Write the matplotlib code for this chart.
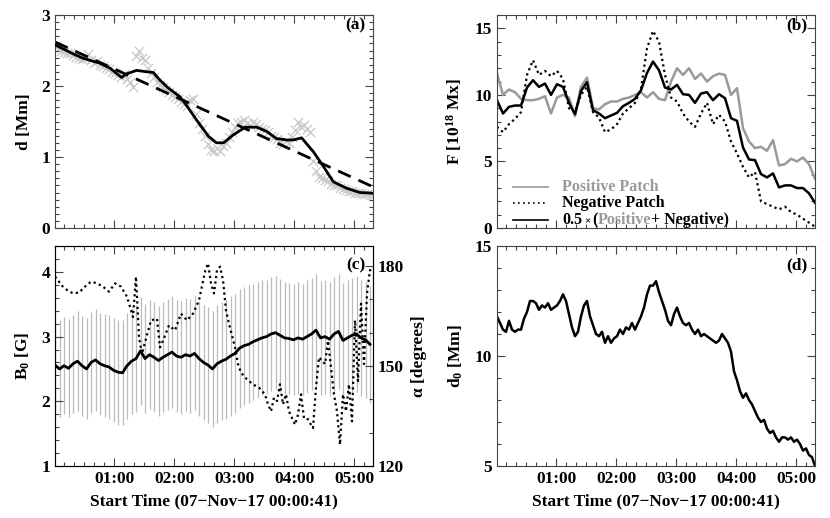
import numpy as np
import matplotlib
matplotlib.use("Agg")
import matplotlib.pyplot as plt
from matplotlib.ticker import MultipleLocator

plt.rcParams['font.family'] = ['Liberation Serif', 'DejaVu Serif']
plt.rcParams['font.weight'] = 'bold'
plt.rcParams['mathtext.fontset'] = 'custom'
plt.rcParams['mathtext.rm'] = 'Liberation Serif:bold'
plt.rcParams['mathtext.it'] = 'Liberation Serif:bold'
plt.rcParams['mathtext.bf'] = 'Liberation Serif:bold'

T0 = 41 / 3600.0  # start time offset (hours)

# ---------------- Panel (a): distance d ----------------
t_scatter = np.round(np.arange(0, 5.301, 0.05), 3)
d_scatter = [2.57, 2.52, 2.50, 2.48, 2.47, 2.46, 2.43, 2.41, 2.40, 2.38,
             2.40, 2.45, 2.36, 2.33, 2.35, 2.30, 2.28, 2.25, 2.24, 2.20,
             2.18, 2.15, 2.12, 2.17, 2.10, 2.05, 1.98, 2.42, 2.50, 2.40,
             2.36, 2.25, 2.18, 2.12, 2.05, 2.02, 1.98, 1.95, 1.92, 1.88,
             1.85, 1.82, 1.78, 1.75, 1.72, 1.80, 1.82, 1.60, 1.48, 1.40,
             1.30, 1.18, 1.10, 1.08, 1.12, 1.08, 1.15, 1.20, 1.28, 1.35,
             1.42, 1.48, 1.50, 1.52, 1.48, 1.45, 1.50, 1.46, 1.42, 1.40,
             1.38, 1.35, 1.30, 1.28, 1.25, 1.20, 1.18, 1.22, 1.20, 1.28,
             1.38, 1.50, 1.42, 1.45, 1.40, 1.35, 0.95, 0.80, 0.72, 0.70,
             0.68, 0.66, 0.62, 0.60, 0.60, 0.57, 0.55, 0.54, 0.52, 0.52,
             0.50, 0.50, 0.49, 0.48, 0.48, 0.47, 0.46]
t_smooth = [0.0, 0.31, 0.47, 0.75, 0.92, 1.11, 1.19, 1.36, 1.53, 1.64, 1.75,
            1.89, 2.08, 2.19, 2.36, 2.56, 2.69, 2.81, 2.97, 3.17, 3.36, 3.53,
            3.69, 3.86, 3.97, 4.11, 4.31, 4.44, 4.64, 4.86, 5.08, 5.30]
d_smooth = [2.58, 2.45, 2.39, 2.32, 2.25, 2.12, 2.17, 2.22, 2.20, 2.19, 2.08,
            1.97, 1.85, 1.73, 1.52, 1.29, 1.20, 1.20, 1.31, 1.42, 1.42, 1.36,
            1.26, 1.24, 1.24, 1.27, 1.07, 0.91, 0.65, 0.56, 0.50, 0.49]
t_linfit = [0.0, 5.30]
d_linfit = [2.62, 0.58]

# ---------------- Panel (b): flux ----------------
t_flux = np.round(np.arange(0, 5.301, 0.1), 2)
flux_pos = [11.6, 10.0, 10.4, 10.2, 9.7, 9.6, 9.6, 9.7, 9.9, 8.6,
            9.8, 10.0, 9.8, 8.4, 10.6, 11.3, 9.0, 8.9, 9.3, 9.5,
            9.5, 9.7, 9.8, 10.0, 10.2, 9.8, 10.2, 9.7, 9.6, 11.0,
            12.0, 11.5, 12.0, 11.2, 11.6, 11.0, 11.4, 11.6, 11.5, 10.0,
            10.5, 7.5, 6.5, 6.0, 6.1, 5.8, 6.6, 4.7, 4.8, 5.2,
            5.0, 5.3, 4.8, 3.7]
flux_neg = [7.6, 7.2, 7.8, 8.2, 8.7, 11.5, 12.6, 11.5, 11.8, 11.4,
            11.8, 11.2, 9.0, 8.7, 10.0, 10.6, 8.7, 8.3, 7.2, 7.4,
            7.8, 8.6, 9.0, 9.4, 10.5, 13.5, 14.8, 14.0, 11.5, 9.8,
            9.5, 8.6, 8.0, 7.6, 8.6, 9.4, 7.8, 8.5, 8.0, 6.5,
            5.6, 4.6, 3.8, 4.2, 2.0, 1.8, 1.6, 1.4, 1.6, 1.2,
            1.0, 0.7, 0.4, 0.1]

# ---------------- Panel (c): B0 and alpha ----------------
t_b0 = np.round(np.arange(0, 5.2501, 0.075), 3)
b0 = [2.56, 2.50, 2.55, 2.51, 2.58, 2.62, 2.55, 2.50, 2.60, 2.64,
      2.58, 2.55, 2.53, 2.48, 2.45, 2.44, 2.55, 2.62, 2.66, 2.78,
      2.66, 2.72, 2.68, 2.63, 2.68, 2.72, 2.76, 2.70, 2.68, 2.72,
      2.70, 2.74, 2.66, 2.60, 2.56, 2.50, 2.58, 2.62, 2.65, 2.70,
      2.74, 2.82, 2.86, 2.88, 2.92, 2.95, 2.98, 3.00, 3.04, 3.06,
      3.02, 2.98, 2.97, 2.95, 2.98, 2.96, 3.00, 3.04, 3.10, 2.98,
      3.00, 2.96, 3.04, 3.08, 2.94, 2.98, 3.02, 3.04, 2.98, 2.95,
      2.88]
b0_err = [0.74, 0.75, 0.75, 0.76, 0.76, 0.77, 0.77, 0.78, 0.78, 0.79, 0.79, 0.80, 0.80,
          0.80, 0.81, 0.81, 0.82, 0.82, 0.83, 0.83, 0.84, 0.84, 0.85, 0.85, 0.85, 0.86,
          0.86, 0.86, 0.87, 0.87, 0.88, 0.88, 0.89, 0.89, 0.90, 0.90, 0.91, 0.91, 0.92,
          0.92, 0.92, 0.92, 0.91, 0.91, 0.90, 0.90, 0.89, 0.88, 0.88, 0.87, 0.87, 0.86,
          0.86, 0.86, 0.86, 0.86, 0.87, 0.87, 0.87, 0.88, 0.88, 0.88, 0.88, 0.89, 0.89,
          0.89, 0.89, 0.90, 0.90, 0.90, 0.90]
t_alpha = [0.0, 0.05, 0.1, 0.2, 0.3, 0.4, 0.5, 0.6, 0.7, 0.8, 0.9, 1.0, 1.1, 1.2,
           1.3, 1.35, 1.4, 1.45, 1.5, 1.6, 1.7, 1.75, 1.8, 1.9, 2.0, 2.1, 2.2, 2.3,
           2.4, 2.5, 2.55, 2.6, 2.65, 2.7, 2.75, 2.8, 2.85, 2.9, 3.0, 3.05, 3.1, 3.2,
           3.3, 3.4, 3.5, 3.55, 3.6, 3.65, 3.7, 3.75, 3.8, 3.85, 3.9, 4.0, 4.05, 4.1,
           4.15, 4.2, 4.3, 4.35, 4.4, 4.5, 4.55, 4.6, 4.65, 4.7, 4.75, 4.8, 4.85, 4.9,
           4.95, 5.0, 5.05, 5.1, 5.15, 5.2, 5.25, 5.3]
alpha = [176.8, 175.8, 174.3, 172.8, 171.8, 172.0, 173.8, 175.3, 174.8, 173.8, 172.3,
         174.8, 173.8, 170.8, 164.7, 176.8, 158.6, 153.6, 157.1, 163.7, 164.2, 155.6,
         157.6, 162.2, 160.7, 165.7, 163.7, 165.7, 169.7, 178.3, 180.8, 174.8, 171.8,
         178.8, 179.8, 175.8, 166.7, 162.7, 155.6, 150.6, 148.0, 146.0, 144.5, 143.5,
         141.5, 138.5, 136.4, 140.5, 139.5, 144.5, 138.5, 141.5, 136.4, 132.4, 135.4,
         141.5, 134.4, 134.4, 131.4, 143.5, 152.6, 150.6, 157.6, 149.6, 141.5, 136.4,
         126.4, 141.5, 136.4, 144.5, 133.4, 163.7, 145.5, 168.7, 150.6, 171.8, 178.8,
         177.8]

# ---------------- Panel (d): d0 ----------------
t_d0 = np.round(np.arange(0, 5.301, 0.05), 3)
d0 = [11.8, 11.5, 11.2, 11.1, 11.6, 11.2, 11.1, 11.2, 11.2, 11.7,
      12.0, 12.5, 12.5, 12.4, 12.1, 12.3, 12.2, 12.4, 12.1, 12.2,
      12.3, 12.5, 12.8, 12.5, 11.9, 11.3, 10.9, 11.1, 11.8, 12.3,
      12.5, 11.8, 11.4, 11.0, 10.9, 11.1, 10.6, 10.9, 10.6, 10.8,
      10.9, 11.2, 11.0, 11.3, 11.2, 11.5, 11.2, 11.5, 11.8, 12.2,
      12.8, 13.2, 13.2, 13.4, 12.9, 12.5, 12.1, 11.6, 11.4, 11.9,
      12.2, 11.8, 11.5, 11.4, 11.5, 11.2, 11.0, 11.2, 10.9, 11.0,
      10.9, 10.8, 10.7, 10.6, 10.7, 11.0, 10.8, 10.6, 10.2, 9.3,
      8.9, 8.4, 8.1, 8.3, 8.0, 7.8, 7.5, 7.2, 7.0, 7.1,
      6.7, 6.5, 6.6, 6.3, 6.1, 6.3, 6.3, 6.2, 6.3, 6.1,
      6.2, 6.0, 5.7, 5.8, 5.5, 5.4, 5.0]

hour_ticks = [1, 2, 3, 4, 5]
hour_labels = ['01:00', '02:00', '03:00', '04:00', '05:00']
legend_labels = ['Positive Patch', 'Negative Patch']
xlabel_text = 'Start Time (07\u2212Nov\u221217 00:00:41)'

# ================= Figure =================
W, H = 830, 518
fig = plt.figure(figsize=(W / 100, H / 100), dpi=100)

def box(x0, y0, x1, y1):
    return [x0 / W, 1 - y1 / H, (x1 - x0) / W, (y1 - y0) / H]

axa = fig.add_axes(box(55, 15, 373, 228))
axb = fig.add_axes(box(497, 15, 815, 228))
axc = fig.add_axes(box(55, 246, 373, 466))
axd = fig.add_axes(box(497, 246, 815, 466))

FS = 12.5
GRAY = '#9a9a9a'
XMIN, XMAX = T0, T0 + 5.3

def style(ax, ymin, ymax, ymaj, ymin_step, xlabels, right=True):
    ax.set_xlim(XMIN, XMAX)
    ax.set_ylim(ymin, ymax)
    ax.set_xticks(hour_ticks)
    ax.xaxis.set_minor_locator(MultipleLocator(1 / 6))
    ax.yaxis.set_major_locator(MultipleLocator(ymaj))
    ax.yaxis.set_minor_locator(MultipleLocator(ymin_step))
    if xlabels:
        ax.set_xticklabels(hour_labels)
    else:
        ax.set_xticklabels([])
    ax.tick_params(which='both', direction='in', top=True, right=right,
                   labelsize=FS, width=0.8, color='#444444')
    ax.tick_params(which='major', length=6)
    ax.tick_params(which='minor', length=3)
    for s in ax.spines.values():
        s.set_linewidth(0.8)
        s.set_color('#444444')
    for lab in ax.get_xticklabels() + ax.get_yticklabels():
        lab.set_fontweight('bold')

# ---- (a)
axa.scatter(np.array(t_scatter) + T0, d_scatter, marker='x', s=45,
            color='#c8c8c8', linewidths=0.9, zorder=1)
axa.plot(np.array(t_smooth) + T0, d_smooth, color='black', lw=2.0, zorder=3)
axa.plot(np.array(t_linfit) + T0, d_linfit, color='black', lw=2.0,
         dashes=(5, 3), zorder=2)
style(axa, 0, 3, 1, 0.1, False)
axa.set_ylabel('d [Mm]', fontsize=FS, fontweight='bold')
axa.yaxis.set_label_coords(-0.072, 0.5)
axa.text(0.975, 0.953, '(a)', transform=axa.transAxes, ha='right', va='center',
         fontsize=FS, fontweight='bold')

# ---- (b)
fp = np.array(flux_pos)
fn = np.array(flux_neg)
axb.plot(t_flux + T0, fp, color=GRAY, lw=1.8)
axb.plot(t_flux + T0, fn, color='black', lw=1.6, linestyle=(0, (1, 1.5)))
axb.plot(t_flux + T0, 0.5 * (fp + fn), color='black', lw=1.8)
style(axb, 0, 16, 5, 1, False)
axb.set_ylabel('F [10$^{\\mathrm{18}}$ Mx]', fontsize=FS, fontweight='bold')
axb.yaxis.set_label_coords(-0.105, 0.5)
axb.text(0.975, 0.953, '(b)', transform=axb.transAxes, ha='right', va='center',
         fontsize=FS, fontweight='bold')

# manual legend
rows = [0.192, 0.117, 0.038]
axb.plot([0.05, 0.16], [rows[0]] * 2, transform=axb.transAxes, color=GRAY, lw=1.2)
axb.plot([0.05, 0.16], [rows[1]] * 2, transform=axb.transAxes, color='black', lw=1.2,
         linestyle=(0, (1, 2)))
axb.plot([0.05, 0.16], [rows[2]] * 2, transform=axb.transAxes, color='black', lw=1.2)
LFS = 11.5
axb.text(0.205, rows[0], legend_labels[0], transform=axb.transAxes, va='center',
         color=GRAY, fontsize=LFS, fontweight='bold')
axb.text(0.205, rows[1], legend_labels[1], transform=axb.transAxes, va='center',
         color='black', fontsize=LFS, fontweight='bold')

# multi-coloured third legend entry, placed piece by piece on a common baseline
renderer = fig.canvas.get_renderer()
ref = axb.text(0.205, rows[2], 'N', transform=axb.transAxes, va='center',
               fontsize=LFS, fontweight='bold', alpha=0)
bb = ref.get_window_extent(renderer)
base_disp = axb.transAxes.transform((0.205, rows[2]))
pieces = [('0.5', 'black', LFS, 0), ('\u00d7', 'black', 8, 2), ('(', 'black', LFS, 2),
          ('Positive', GRAY, LFS, 0), ('+ Negative)', 'black', LFS, 0)]
x_disp = base_disp[0]
y_base_disp = bb.y0 + 0.22 * bb.height  # approximate baseline
inv = axb.transAxes.inverted()
for txt, col, fs, gap in pieces:
    x_disp += gap
    xa, ya = inv.transform((x_disp, y_base_disp))
    tt = axb.text(xa, ya, txt, transform=axb.transAxes, va='baseline', ha='left',
                  color=col, fontsize=fs, fontweight='bold')
    x_disp = tt.get_window_extent(renderer).x1

# ---- (c)
tb = np.array(t_b0) + T0
axc.errorbar(tb, b0, yerr=b0_err, fmt='none', ecolor='#bbbbbb', elinewidth=0.9,
             capsize=0, zorder=1)
axc.plot(tb, b0, color='black', lw=2.0, zorder=3)
style(axc, 1, 4.4, 1, 0.2, True, right=False)
axc.set_ylabel('B$_\\mathrm{0}$ [G]', fontsize=FS, fontweight='bold')
axc.yaxis.set_label_coords(-0.072, 0.5)
axc.set_xlabel(xlabel_text, fontsize=FS, fontweight='bold')
axc.xaxis.set_label_coords(0.5, -0.16)
axc.xaxis.label.set_va('center')
axc2 = axc.twinx()
axc2.plot(np.array(t_alpha) + T0, alpha, color='black', lw=1.6,
          linestyle=(0, (1, 1.5)), zorder=2)
axc2.set_ylim(120, 186)
axc2.set_xlim(XMIN, XMAX)
axc2.yaxis.set_major_locator(MultipleLocator(30))
axc2.yaxis.set_minor_locator(MultipleLocator(10))
axc2.tick_params(which='both', direction='in', labelsize=FS, width=0.8, color='#444444')
axc2.tick_params(which='major', length=6)
axc2.tick_params(which='minor', length=3)
for lab in axc2.get_yticklabels():
    lab.set_fontweight('bold')
axc2.set_ylabel('\u03b1 [degrees]', fontsize=FS, fontweight='bold')
axc2.yaxis.set_label_coords(1.119, 0.5)
axc.text(0.975, 0.914, '(c)', transform=axc.transAxes, ha='right', va='center',
         fontsize=FS, fontweight='bold')

# ---- (d)
axd.plot(np.array(t_d0) + T0, d0, color='black', lw=1.8)
style(axd, 5, 15, 5, 1, True)
axd.set_ylabel('d$_\\mathrm{0}$ [Mm]', fontsize=FS, fontweight='bold')
axd.yaxis.set_label_coords(-0.10, 0.5)
axd.set_xlabel(xlabel_text, fontsize=FS, fontweight='bold')
axd.xaxis.set_label_coords(0.5, -0.16)
axd.xaxis.label.set_va('center')
axd.text(0.975, 0.914, '(d)', transform=axd.transAxes, ha='right', va='center',
         fontsize=FS, fontweight='bold')

fig.savefig('out.png', dpi=100)
